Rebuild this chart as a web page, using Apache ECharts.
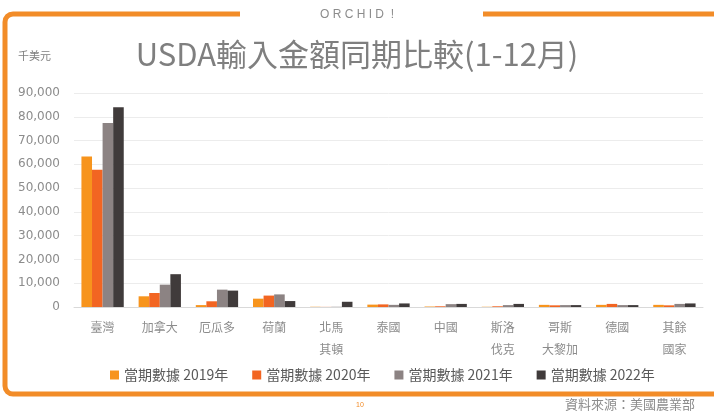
<!DOCTYPE html>
<html>
<head>
<meta charset="utf-8">
<script src="https://cdn.jsdelivr.net/npm/echarts@6/dist/echarts.min.js"></script>
<style>
html, body { margin: 0; padding: 0; background: #fff; }
#main { width: 714px; height: 411px; }
</style>
</head>
<body>
<div id="main"></div>
<script>
var categories = ['臺灣', '加拿大', '厄瓜多', '荷蘭', '北馬\n其頓', '泰國', '中國', '斯洛\n伐克', '哥斯\n大黎加', '德國', '其餘\n國家'];
var seriesNames = ['當期數據 2019年', '當期數據 2020年', '當期數據 2021年', '當期數據 2022年'];
var data2019 = [63300, 4500, 800, 3500, 100, 1000, 200, 100, 900, 900, 900];
var data2020 = [57700, 5900, 2400, 4800, 50, 1100, 300, 300, 700, 1300, 700];
var data2021 = [77400, 9400, 7300, 5300, 100, 900, 1200, 800, 800, 800, 1300];
var data2022 = [84000, 13800, 6900, 2500, 2200, 1500, 1300, 1300, 800, 800, 1500];
var colors = ['#F7941D', '#F26522', '#8C8383', '#403B3B'];

var dom = document.getElementById('main');
var myChart = echarts.init(dom);
var font = '"Noto Sans CJK TC", "Noto Sans", sans-serif';

var allData = [data2019, data2020, data2021, data2022];
var series = [];
for (var i = 0; i < allData.length; i++) {
    series.push({
        name: seriesNames[i],
        type: 'bar',
        barGap: '0%',
        barCategoryGap: '26%',
        itemStyle: { color: colors[i] },
        data: allData[i]
    });
}

var orange = '#F28C28';
var option = {
    backgroundColor: '#fff',
    color: colors,
    animation: false,
    title: {
        text: 'USDA輸入金額同期比較(1-12月)',
        left: 'center',
        top: 34,
        textStyle: { color: '#7F7F7F', fontSize: 31, fontWeight: 'normal', fontFamily: font }
    },
    legend: {
        data: seriesNames,
        bottom: 24,
        left: 105,
        itemWidth: 9,
        itemHeight: 9,
        itemGap: 24,
        icon: 'rect',
        textStyle: { color: '#595959', fontSize: 14, fontFamily: font }
    },
    grid: {
        left: 74,
        right: 11,
        top: 93,
        bottom: 104
    },
    xAxis: {
        type: 'category',
        data: categories,
        axisTick: { show: false },
        axisLine: { lineStyle: { color: '#D9D9D9' } },
        axisLabel: {
            color: '#8C8C8C',
            fontSize: 12,
            lineHeight: 22,
            margin: 9,
            interval: 0,
            fontFamily: font
        }
    },
    yAxis: {
        type: 'value',
        min: 0,
        max: 90000,
        interval: 10000,
        axisLine: { show: false },
        axisTick: { show: false },
        splitLine: { lineStyle: { color: '#ECECEC' } },
        axisLabel: {
            color: '#8C8C8C',
            fontSize: 12,
            margin: 14,
            fontFamily: '"DejaVu Sans", sans-serif',
            formatter: function (v) { return v.toLocaleString('en-US'); }
        }
    },
    graphic: [
        {
            type: 'rect',
            shape: { x: 5, y: 14, width: 740, height: 380, r: 8 },
            style: { fill: null, stroke: orange, lineWidth: 5 },
            silent: true
        },
        {
            type: 'rect',
            shape: { x: 240, y: 8, width: 243, height: 12 },
            style: { fill: '#fff' },
            silent: true
        },
        {
            type: 'text',
            left: 'center',
            top: 9,
            style: { text: 'O R C H I D  !', fill: '#8C8C8C', font: '12px "Liberation Sans", sans-serif' }
        },
        {
            type: 'text',
            left: 18,
            top: 50,
            style: { text: '千美元', fill: '#7F7F7F', font: '11px "Noto Sans CJK TC", sans-serif' }
        },
        {
            type: 'text',
            left: 356,
            top: 402,
            style: { text: '10', fill: '#F28C28', font: '7px sans-serif' }
        },
        {
            type: 'text',
            left: 565,
            top: 398,
            style: { text: '資料來源：美國農業部', fill: '#8C8C8C', font: '13px "Noto Sans CJK TC", sans-serif' }
        }
    ],
    series: series
};

if (option && typeof option === 'object') {
    myChart.setOption(option, true);
}
window.onresize = function () {
    myChart.resize();
};
</script>
</body>
</html>
